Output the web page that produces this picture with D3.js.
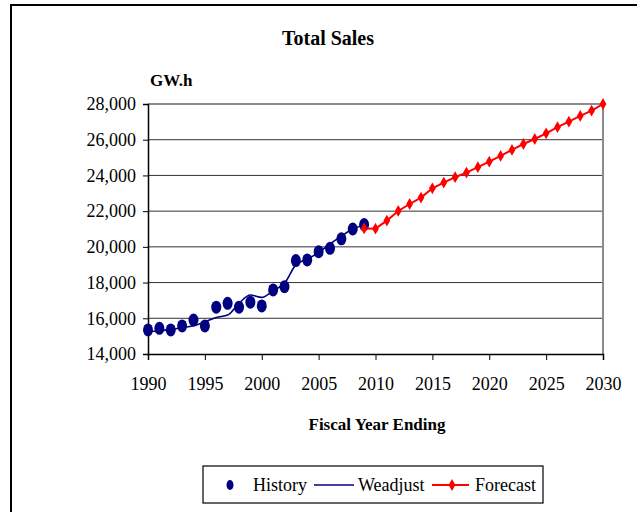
<!DOCTYPE html>
<html>
<head>
<meta charset="utf-8">
<script src="https://cdn.jsdelivr.net/npm/d3@7"></script>
<style>
  body { margin: 0; background: #fff; }
  text { font-family: "Liberation Serif", "Times New Roman", serif; fill: #000; }
</style>
</head>
<body>
<svg width="637" height="512"></svg>
<script>

// ===== data =====
const historyYears = [1990,1991,1992,1993,1994,1995,1996,1997,1998,1999,2000,2001,2002,2003,2004,2005,2006,2007,2008,2009];
const historyValues = [15350,15440,15350,15570,15900,15570,16620,16840,16620,16900,16690,17590,17770,19230,19270,19730,19920,20450,21000,21250];

const weadjustValues = [15250,15300,15380,15470,15580,15800,16050,16180,16840,17300,17170,17550,17960,18990,19310,19680,20160,20600,21000,21230];

const forecastYears = [2009,2010,2011,2012,2013,2014,2015,2016,2017,2018,2019,2020,2021,2022,2023,2024,2025,2026,2027,2028,2029,2030];
const forecastValues = [21030,21020,21470,22010,22400,22760,23280,23600,23900,24160,24460,24770,25090,25430,25760,26040,26360,26700,27010,27330,27630,28000];

const yTicks = [14000,16000,18000,20000,22000,24000,26000,28000];
const xTicks = [1990,1995,2000,2005,2010,2015,2020,2025,2030];

const navy = "#000080";
const red = "#ff0000";

const svg = d3.select("svg");

// outer chart border (only left and top show)
svg.append("rect")
  .attr("x", 11).attr("y", 5)
  .attr("width", 640).attr("height", 520)
  .attr("fill", "none").attr("stroke", "#000").attr("stroke-width", 2);

// title
svg.append("text")
  .attr("x", 328).attr("y", 45)
  .attr("text-anchor", "middle")
  .style("font-size", "20px").style("font-weight", "bold")
  .text("Total Sales");

const x = d3.scaleLinear().domain([1990, 2030]).range([148, 603]);
const y = d3.scaleLinear().domain([14000, 28000]).range([354, 104]);

// gridlines
svg.append("g").selectAll("line")
  .data(yTicks.slice(1, -1))
  .enter().append("line")
  .attr("x1", x(1990)).attr("x2", x(2030))
  .attr("y1", d => y(d)).attr("y2", d => y(d))
  .attr("stroke", "#333").attr("stroke-width", 1);

// plot border on top/right is gray
svg.append("path")
  .attr("d", `M${x(1990)},${y(28000)}H${x(2030)}V${y(14000)}`)
  .attr("fill", "none").attr("stroke", "#8c8c8c").attr("stroke-width", 2);

// axes
const yAxis = svg.append("g")
  .attr("transform", `translate(${x(1990)},0)`)
  .call(d3.axisLeft(y).tickValues(yTicks).tickSize(5).tickPadding(7).tickFormat(d3.format(",")));
const xAxis = svg.append("g")
  .attr("transform", `translate(0,${y(14000)})`)
  .call(d3.axisBottom(x).tickValues(xTicks).tickSize(6).tickPadding(17).tickFormat(d3.format("d")));

[yAxis, xAxis].forEach(ax => {
  ax.select(".domain").attr("stroke", "#000").attr("stroke-width", 1.5);
  ax.selectAll(".tick line").attr("stroke", "#000");
  ax.selectAll("text")
    .style("font-family", '"Liberation Serif", serif')
    .style("font-size", "18px").attr("fill", "#000");
});
xAxis.selectAll("text").attr("dy", "0.71em");

// axis titles
svg.append("text")
  .attr("x", 150).attr("y", 86)
  .style("font-size", "17px").style("font-weight", "bold")
  .text("GW.h");
svg.append("text")
  .attr("x", 377).attr("y", 430)
  .attr("text-anchor", "middle")
  .style("font-size", "17px").style("font-weight", "bold")
  .text("Fiscal Year Ending");

// ===== series =====
const line = d3.line().x(d => x(d[0])).y(d => y(d[1]));
const weadjust = d3.line().curve(d3.curveMonotoneX).x(d => x(d[0])).y(d => y(d[1]));

svg.append("path")
  .datum(historyYears.map((yr, i) => [yr, weadjustValues[i]]))
  .attr("d", weadjust)
  .attr("fill", "none").attr("stroke", navy).attr("stroke-width", 1.6);

svg.append("g").selectAll("ellipse")
  .data(historyYears.map((yr, i) => [yr, historyValues[i]]))
  .enter().append("ellipse")
  .attr("cx", d => x(d[0])).attr("cy", d => y(d[1]))
  .attr("rx", 5).attr("ry", 6.5)
  .attr("fill", navy);

const fc = forecastYears.map((yr, i) => [yr, forecastValues[i]]);
svg.append("path")
  .datum(fc)
  .attr("d", line)
  .attr("fill", "none").attr("stroke", red).attr("stroke-width", 2);

const diamond = d3.symbol().type(d3.symbolDiamond).size(40);
svg.append("g").selectAll("path")
  .data(fc)
  .enter().append("path")
  .attr("d", diamond)
  .attr("transform", d => `translate(${x(d[0])},${y(d[1])})`)
  .attr("fill", red);

// ===== legend =====
const lg = svg.append("g");
lg.append("rect")
  .attr("x", 203).attr("y", 466).attr("width", 340).attr("height", 37)
  .attr("fill", "#fff").attr("stroke", "#000").attr("stroke-width", 1.2);

lg.append("ellipse").attr("cx", 230).attr("cy", 485).attr("rx", 3.5).attr("ry", 5).attr("fill", navy);
lg.append("text").attr("x", 253).attr("y", 491).style("font-size", "18px").text("History");

lg.append("line").attr("x1", 314).attr("x2", 354).attr("y1", 485).attr("y2", 485)
  .attr("stroke", navy).attr("stroke-width", 1.6);
lg.append("text").attr("x", 358).attr("y", 491).style("font-size", "18px").text("Weadjust");

lg.append("line").attr("x1", 432).attr("x2", 469).attr("y1", 485).attr("y2", 485)
  .attr("stroke", red).attr("stroke-width", 2);
lg.append("path").attr("d", diamond).attr("transform", "translate(452,485)").attr("fill", red);
lg.append("text").attr("x", 475).attr("y", 491).style("font-size", "18px").text("Forecast");

</script>
</body>
</html>
